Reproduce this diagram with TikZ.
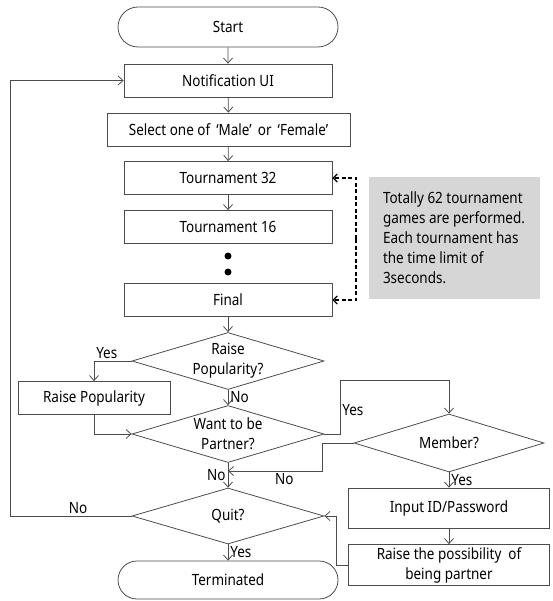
\documentclass[tikz,border=0pt]{standalone}
\usepackage{fontspec}
\setmainfont{Noto Sans}[FakeStretch=0.87]
\usetikzlibrary{arrows.meta,shapes.geometric,shapes.misc}

\begin{document}
\begin{tikzpicture}[x=1pt,y=-1pt,font=\fontsize{15.5}{20}\selectfont]
  \useasboundingbox (0,0) rectangle (552,601);

  \tikzstyle{box}=[draw=black!70,line width=0.8pt,minimum height=33pt,inner sep=2pt]
  \tikzstyle{step box}=[box,minimum width=208pt]
  \tikzstyle{side box}=[box,minimum width=201pt,minimum height=40pt,align=center]
  \tikzstyle{terminal}=[box,rounded rectangle,minimum width=224pt,minimum height=40pt]
  \tikzstyle{test}=[box,diamond,aspect=3.4,inner sep=0pt,minimum width=192pt,minimum height=57pt,align=center]
  \tikzstyle{dot}=[circle,fill=black,inner sep=0pt,minimum size=7pt]
  \tikzstyle{note}=[fill=black!16,minimum width=171pt,minimum height=121pt,align=left,inner sep=6pt]
  \tikzstyle{flow}=[draw=black!70,line width=0.8pt,-{Straight Barb[length=5pt,width=9pt]}]
  \tikzstyle{hint}=[black,line width=1.2pt,dash pattern=on 4pt off 2.5pt,-{Straight Barb[length=4pt,width=8pt]}]
  \tikzstyle{LabelStyle}=[inner sep=2pt]

  \node[terminal] (start) at (228,27) {Start};
  \node[step box] (notify) at (228,80.5) {Notification UI};
  \node[box,minimum width=243pt] (gender) at (228.5,129.5) {Select one of\, ‘Male’\, or\, ‘Female’};
  \node[step box] (t32) at (228,178) {Tournament 32};
  \node[step box] (t16) at (228,227) {Tournament 16};
  \node[dot] (dotA) at (228,256) {};
  \node[dot] (dotB) at (228,272) {};
  \node[step box] (final) at (228,300) {Final};
  \node[note] (note) at (454,238) {Totally 62 tournament\\games are performed.\\Each tournament has\\the time limit of\\3seconds.};

  \node[test] (quest) at (228,361) {Raise\\Popularity?};
  \node[box,minimum width=152pt] (popular) at (94,398) {Raise Popularity};
  \node[test] (partner) at (228,434) {Want to be\\Partner?};
  \node[test,minimum width=190pt,minimum height=58pt] (member) at (449,443) {Member?};
  \node[side box] (login) at (449,508) {Input ID/Password};
  \node[side box,minimum height=41pt] (chance) at (449,565) {Raise the possibility\ \ of\\being partner};
  \node[test,minimum height=56pt] (quit) at (228,516) {Quit?};
  \node[terminal,minimum height=38pt] (stop) at (228,580) {Terminated};

  \coordinate (hint) at (356,239);
  \coordinate (loop) at (10,80.5);
  \coordinate (bendA) at (340,380);
  \coordinate (bendB) at (322,471);
  \coordinate (merge) at (228,471);
  \coordinate (bendC) at (336,516);

  \draw[flow] (start) -- (notify);
  \draw[flow] (notify) -- (gender);
  \draw[flow] (gender) -- (t32);
  \draw[flow] (t32) -- (t16);
  \draw[flow] (final) -- (quest);
  \draw[hint] (hint) |- (t32.east);
  \draw[hint] (hint) |- (final.east);

  \draw[flow] (quest.west) -| (popular.north) node[LabelStyle,pos=0.33,above] {Yes};
  \draw[flow] (quest) -- (partner) node[LabelStyle,midway,right] {No};
  \draw[flow] (popular.south) |- (partner.west);
  \draw[flow] (partner.east) -| (bendA) node[LabelStyle,pos=0.72,right] {Yes} -| (member.north);
  \draw[flow] (partner) -- (quit) node[LabelStyle,midway,left] {No};
  \draw[flow] (member.west) -| (bendB) -- (merge) node[LabelStyle,pos=0.4,below] {No};
  \draw[flow] (member) -- (login) node[LabelStyle,midway,right] {Yes};
  \draw[flow] (login) -- (chance);
  \draw[flow] (chance.west) -| (bendC) -- (quit.east);
  \draw[flow] (quit.west) -| (loop) node[LabelStyle,pos=0.22,above] {No} -- (notify.west);
  \draw[flow] (quit) -- (stop) node[LabelStyle,midway,right] {Yes};
\end{tikzpicture}
\end{document}
